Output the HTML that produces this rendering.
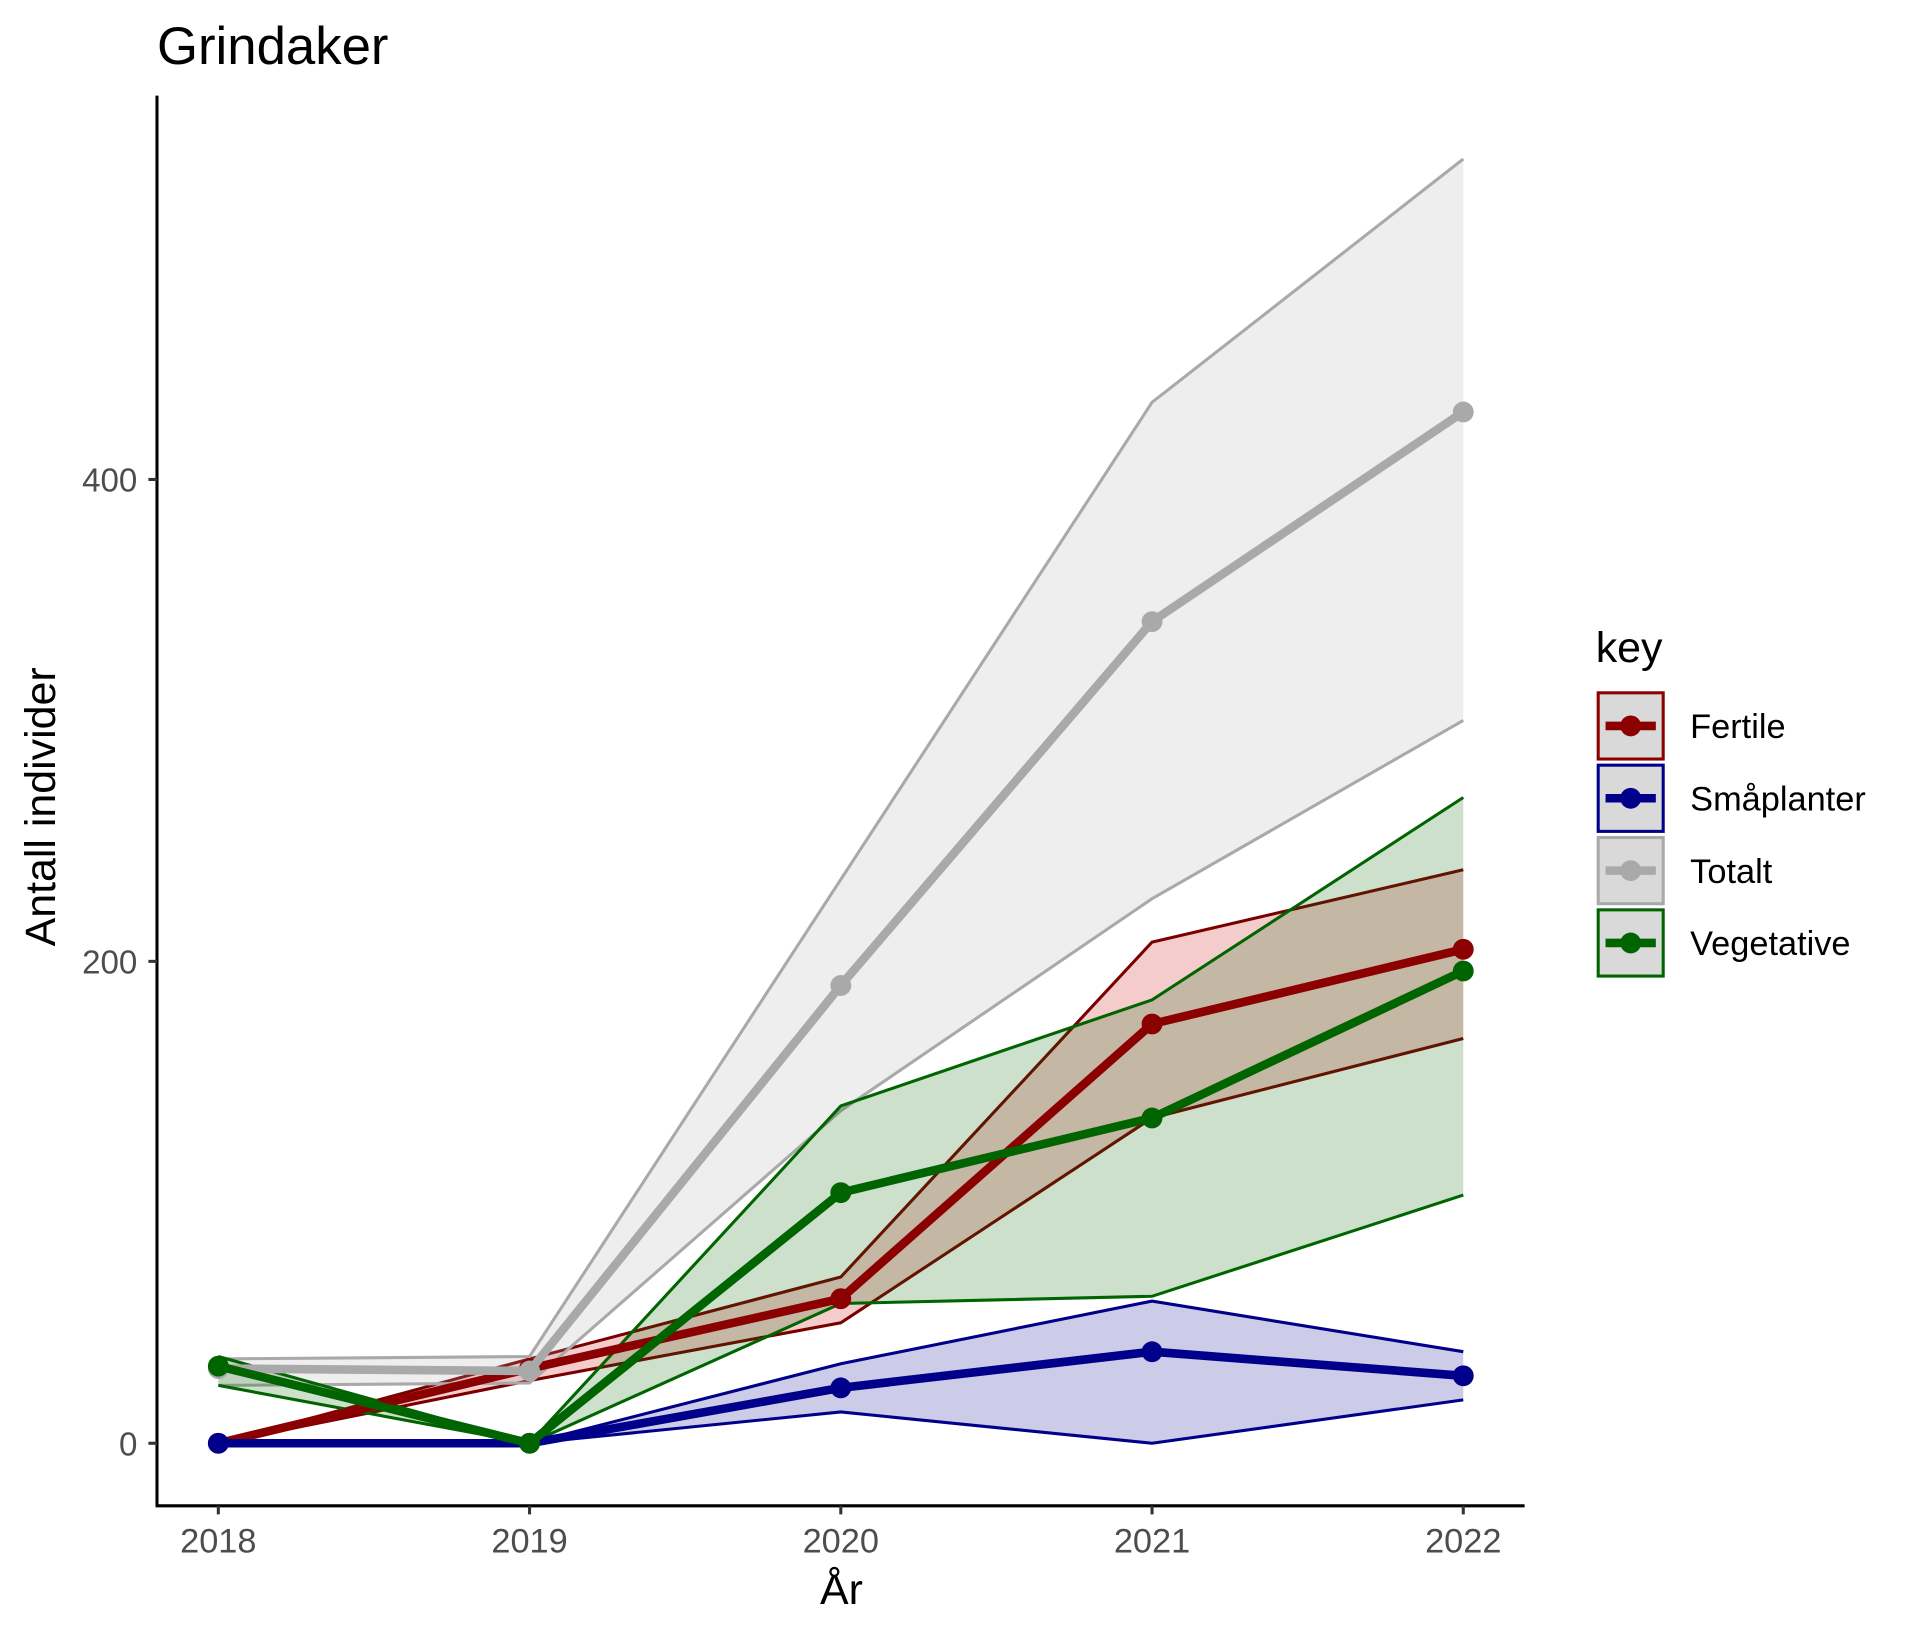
<!DOCTYPE html>
<html><head><meta charset="utf-8"><style>
html,body{margin:0;padding:0;background:#fff;}
svg{display:block;font-family:"Liberation Sans",Arial,sans-serif;}
</style></head><body>
<svg id="chart" width="1922" height="1637" viewBox="0 0 1567 1335" preserveAspectRatio="none" xmlns="http://www.w3.org/2000/svg">
<rect width="1567" height="1335" fill="#fff"/>
<text x="128" y="52" font-size="43" fill="#000">Grindaker</text>
<g id="ribbons"></g>
<g id="lines"></g>
<g id="axes"></g>
<text transform="translate(45,658) rotate(-90)" text-anchor="middle" font-size="35" fill="#000">Antall individer</text>
<text x="686" y="1308" text-anchor="middle" font-size="35" fill="#000">År</text>
<g id="legend"></g>
</svg>
<script>
const years = [2018, 2019, 2020, 2021, 2022];
const yTicks = [0, 200, 400];
const seriesKeys = ["Fertile", "Småplanter", "Totalt", "Vegetative"];
const fertileMean = [0, 31, 60, 174, 205];
const fertileLow = [0, 26, 50, 135, 168];
const fertileHigh = [0, 35, 69, 208, 238];
const smaMean = [0, 0, 23, 38, 28];
const smaLow = [0, 0, 13, 0, 18];
const smaHigh = [0, 0, 33, 59, 38];
const totMean = [31, 30, 190, 341, 428];
const totLow = [24, 25, 138, 226, 300];
const totHigh = [35, 36, 234, 432, 533];
const vegMean = [32, 0, 104, 135, 196];
const vegLow = [24, 0, 58, 61, 103];
const vegHigh = [36, 0, 140, 184, 268];

const NS = "http://www.w3.org/2000/svg";
function xS(yr){ return 178 + (yr - 2018) * 253.75; }
function yS(v){ return 1177 - v * 1.965; }
function mk(tag, attrs, parent){
  const e = document.createElementNS(NS, tag);
  for (const k in attrs) e.setAttribute(k, attrs[k]);
  parent.appendChild(e); return e;
}
const series = [
  {key:"Fertile", mean:fertileMean, lo:fertileLow, hi:fertileHigh, col:"#8B0000", fill:"#cc0000", edge:"#7a0000", slug:"fertile"},
  {key:"Småplanter", mean:smaMean, lo:smaLow, hi:smaHigh, col:"#00008B", fill:"#00008B", edge:"#00008B", slug:"smaplanter"},
  {key:"Totalt", mean:totMean, lo:totLow, hi:totHigh, col:"#A9A9A9", fill:"#A9A9A9", edge:"#A9A9A9", slug:"totalt"},
  {key:"Vegetative", mean:vegMean, lo:vegLow, hi:vegHigh, col:"#006400", fill:"#006400", edge:"#006400", slug:"vegetative"}
];
const rib = document.getElementById("ribbons");
const lin = document.getElementById("lines");
series.forEach(s=>{
  const up = years.map((y,i)=>xS(y)+","+yS(s.hi[i]));
  const dn = years.map((y,i)=>xS(y)+","+yS(s.lo[i])).reverse();
  const p = mk("polygon",{points:up.concat(dn).join(" "), fill:s.fill, "fill-opacity":0.2, stroke:"none"}, rib);
  
  
  const l1 = mk("polyline",{points:up.join(" "), fill:"none", stroke:s.edge, "stroke-width":2.5}, rib);
  
  
  const l2 = mk("polyline",{points:years.map((y,i)=>xS(y)+","+yS(s.lo[i])).join(" "), fill:"none", stroke:s.edge, "stroke-width":2.5}, rib);
  
  
});
series.forEach(s=>{
  const l = mk("polyline",{points:years.map((y,i)=>xS(y)+","+yS(s.mean[i])).join(" "), fill:"none", stroke:s.col, "stroke-width":7, "stroke-linejoin":"round"}, lin);
  
  
  years.forEach((y,i)=>{
    const c = mk("circle",{cx:xS(y), cy:yS(s.mean[i]), r:8.5, fill:s.col}, lin);
    
    
  });
});
const ax = document.getElementById("axes");
const ya = mk("line",{x1:128,y1:78,x2:128,y2:1229,stroke:"#000","stroke-width":2.5}, ax);


const xa = mk("line",{x1:127,y1:1228,x2:1243,y2:1228,stroke:"#000","stroke-width":2.5}, ax);


yTicks.forEach(t=>{
  mk("line",{x1:121,y1:yS(t),x2:128,y2:yS(t),stroke:"#333","stroke-width":2.5}, ax);
  const tx = mk("text",{x:112,y:yS(t)+10,"text-anchor":"end","font-size":27,fill:"#4d4d4d"}, ax);
  tx.textContent = t;
  
  
});
years.forEach(y=>{
  mk("line",{x1:xS(y),y1:1228,x2:xS(y),y2:1235,stroke:"#333","stroke-width":2.5}, ax);
  const tx = mk("text",{x:xS(y),y:1266,"text-anchor":"middle","font-size":28,fill:"#4d4d4d"}, ax);
  tx.textContent = y;
  
  
});
const lg = document.getElementById("legend");
const kt = mk("text",{x:1301,y:540,"font-size":35,fill:"#000"}, lg);
kt.textContent = "key";


series.forEach((s,i)=>{
  const cy = 592 + i*59;
  const g = mk("g",{}, lg);
  
  
  mk("rect",{x:1303,y:cy-27,width:53,height:54,fill:"#d9d9d9",stroke:s.col,"stroke-width":2.5}, g);
  mk("circle",{cx:1329.5,cy:cy,r:8.5,fill:s.col}, g);
  mk("line",{x1:1309,y1:cy,x2:1350,y2:cy,stroke:s.col,"stroke-width":7}, g);
  const t = mk("text",{x:1378,y:cy+10,"font-size":28,fill:"#000"}, g);
  t.textContent = s.key;
});
</script>
</body></html>
